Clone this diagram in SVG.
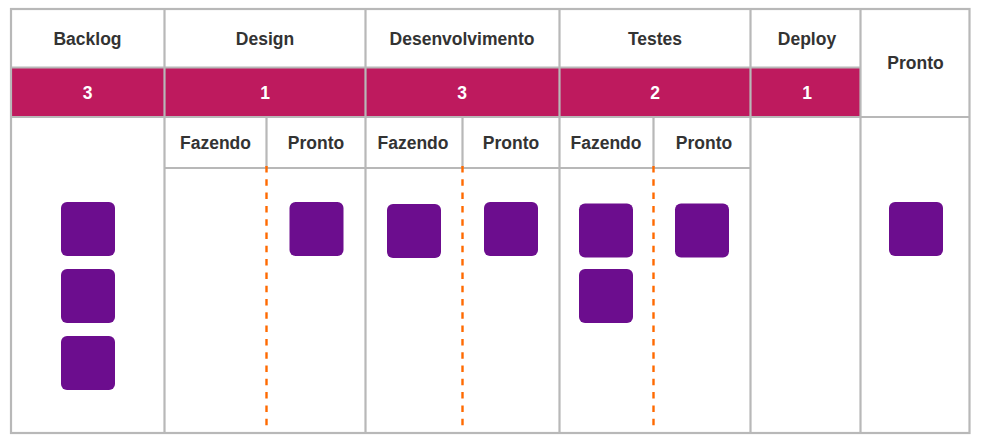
<svg xmlns="http://www.w3.org/2000/svg" width="987" height="444" viewBox="0 0 987 444">
<style>
.g{stroke:#b8b8b8;stroke-width:2.2;fill:none}
.band{fill:#be1a5e}
.h{font-family:"Liberation Sans",Arial,sans-serif;font-weight:bold;font-size:17.5px;fill:#333;text-anchor:middle}
.n{font-family:"Liberation Sans",Arial,sans-serif;font-weight:bold;font-size:17.5px;fill:#fff;text-anchor:middle}
.d{stroke:#ff6a00;stroke-width:2.4;stroke-dasharray:6.5 6.8;fill:none}
.c{fill:#6c0d8e}
</style>
<rect x="0" y="0" width="987" height="444" fill="#fff"/>
<g id="bands">
<rect class="band" x="11" y="67" width="749" height="50"/>
<rect class="band" x="750" y="67" width="110" height="50"/>
</g>
<g id="grid">
<rect class="g" x="11" y="9" width="958.5" height="424"/>
<line class="g" x1="11" y1="67.5" x2="860" y2="67.5"/>
<line class="g" x1="11" y1="117" x2="969.5" y2="117"/>
<line class="g" x1="165" y1="168" x2="750" y2="168"/>
<line class="g" x1="164.5" y1="9" x2="164.5" y2="433"/>
<line class="g" x1="365.5" y1="9" x2="365.5" y2="433"/>
<line class="g" x1="559.5" y1="9" x2="559.5" y2="433"/>
<line class="g" x1="750.5" y1="9" x2="750.5" y2="433"/>
<line class="g" x1="860.5" y1="9" x2="860.5" y2="433"/>
<line class="g" x1="266.5" y1="117" x2="266.5" y2="168"/>
<line class="g" x1="462.5" y1="117" x2="462.5" y2="168"/>
<line class="g" x1="653.5" y1="117" x2="653.5" y2="168"/>
</g>
<g id="connectors">
<line class="d" x1="266.5" y1="166" x2="266.5" y2="430"/>
<line class="d" x1="462.5" y1="166" x2="462.5" y2="430"/>
<line class="d" x1="653.5" y1="166" x2="653.5" y2="430"/>
</g>
<g id="headers">
<text class="h" x="87.5" y="45">Backlog</text>
<text class="h" x="265" y="45">Design</text>
<text class="h" x="462" y="45">Desenvolvimento</text>
<text class="h" x="655" y="45">Testes</text>
<text class="h" x="807" y="45">Deploy</text>
<text class="h" x="915.5" y="68.5">Pronto</text>
</g>
<g id="limits">
<text class="n" x="87.5" y="99">3</text>
<text class="n" x="265" y="99">1</text>
<text class="n" x="462" y="99">3</text>
<text class="n" x="655" y="99">2</text>
<text class="n" x="807" y="99">1</text>
</g>
<g id="subheaders">
<text class="h" x="215.5" y="148.5">Fazendo</text>
<text class="h" x="316" y="148.5">Pronto</text>
<text class="h" x="413" y="148.5">Fazendo</text>
<text class="h" x="511" y="148.5">Pronto</text>
<text class="h" x="606" y="148.5">Fazendo</text>
<text class="h" x="704" y="148.5">Pronto</text>
</g>
<g id="cards">
<rect class="c" x="61" y="202" width="54" height="54" rx="6"/>
<rect class="c" x="61" y="269" width="54" height="54" rx="6"/>
<rect class="c" x="61" y="336" width="54" height="54" rx="6"/>
<rect class="c" x="289.5" y="202" width="54" height="54" rx="6"/>
<rect class="c" x="387" y="204" width="54" height="54" rx="6"/>
<rect class="c" x="484" y="202" width="54" height="54" rx="6"/>
<rect class="c" x="579" y="203.5" width="54" height="54" rx="6"/>
<rect class="c" x="579" y="269" width="54" height="54" rx="6"/>
<rect class="c" x="675" y="203.5" width="54" height="54" rx="6"/>
<rect class="c" x="889" y="202" width="54" height="54" rx="6"/>
</g>
</svg>
